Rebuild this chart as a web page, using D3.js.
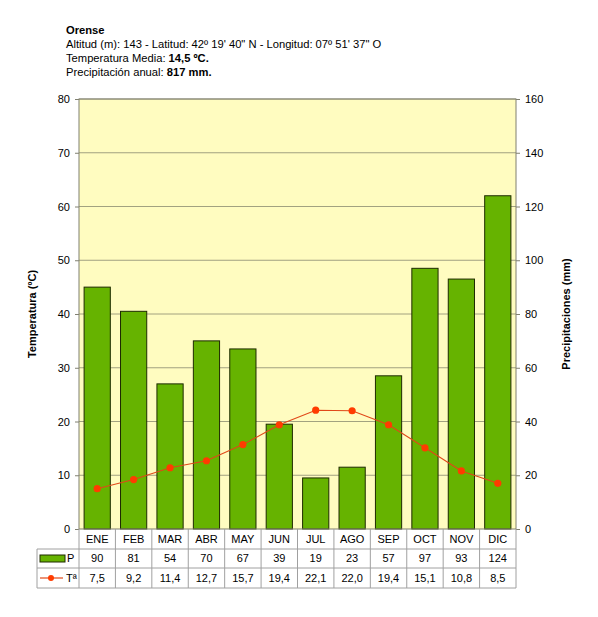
<!DOCTYPE html>
<html><head><meta charset="utf-8">
<script src="https://cdn.jsdelivr.net/npm/d3@7/dist/d3.min.js"></script>
<style>body{margin:0;background:#fff}svg{font-family:"Liberation Sans",Arial,sans-serif}</style>
</head><body><svg id="c" width="598" height="617"></svg>
<script>
const months = ["ENE","FEB","MAR","ABR","MAY","JUN","JUL","AGO","SEP","OCT","NOV","DIC"];
const precip = [90,81,54,70,67,39,19,23,57,97,93,124];
const temp = [7.5,9.2,11.4,12.7,15.7,19.4,22.1,22.0,19.4,15.1,10.8,8.5];
const tempTicks = [0,10,20,30,40,50,60,70,80];
const precTicks = [0,20,40,60,80,100,120,140,160];
const fmt = v => String(v.toFixed(1)).replace(".", ",");

const svg = d3.select("#c");
const L = 79, R = 516, T = 99, B = 529;
const x = d3.scaleBand().domain(months).range([L, R]).paddingInner(0.28).paddingOuter(0.14);
const xb = d3.scaleBand().domain(months).range([L, R]);
const yT = d3.scaleLinear().domain([0, 80]).range([B, T]);
const yP = d3.scaleLinear().domain([0, 160]).range([B, T]);

// title
const tt = svg.append("g").attr("font-size", 11.2).attr("fill", "#000");
tt.append("text").attr("x", 66).attr("y", 34).attr("font-weight", "bold").text("Orense");
tt.append("text").attr("x", 66).attr("y", 48).text("Altitud (m): 143 -  Latitud: 42º 19' 40\" N -  Longitud: 07º 51' 37\" O");
const t3 = tt.append("text").attr("x", 66).attr("y", 62);
t3.append("tspan").text("Temperatura Media: ");
t3.append("tspan").attr("font-weight", "bold").text("14,5 ºC.");
const t4 = tt.append("text").attr("x", 66).attr("y", 76);
t4.append("tspan").text("Precipitación anual: ");
t4.append("tspan").attr("font-weight", "bold").text("817 mm.");

// plot bg
svg.append("rect").attr("x", L).attr("y", T).attr("width", R - L).attr("height", B - T).attr("fill", "#fffcc0");
// grid
svg.append("g").selectAll("line").data(tempTicks.slice(1)).join("line")
  .attr("x1", L).attr("x2", R).attr("y1", d => yT(d)).attr("y2", d => yT(d))
  .attr("stroke", "#8a8a70").attr("stroke-width", 0.8);

// bars
svg.append("g").selectAll("rect").data(precip).join("rect")
  .attr("x", (d, i) => x(months[i])).attr("width", x.bandwidth())
  .attr("y", d => yP(d)).attr("height", d => B - yP(d))
  .attr("fill", "#66b300").attr("stroke", "#1e2a00").attr("stroke-width", 1);

// plot frame
svg.append("rect").attr("x", L).attr("y", T).attr("width", R - L).attr("height", B - T)
  .attr("fill", "none").attr("stroke", "#808070").attr("stroke-width", 1);

// line
const line = d3.line().x((d, i) => xb(months[i]) + xb.bandwidth() / 2).y(d => yT(d));
svg.append("path").datum(temp).attr("d", line).attr("fill", "none").attr("stroke", "#e04818").attr("stroke-width", 1.1);
svg.append("g").selectAll("circle").data(temp).join("circle")
  .attr("cx", (d, i) => xb(months[i]) + xb.bandwidth() / 2).attr("cy", d => yT(d)).attr("r", 3.6)
  .attr("fill", "#ff3c00");

// axes
const axL = svg.append("g").attr("transform", `translate(${L},0)`)
  .call(d3.axisLeft(yT).tickValues(tempTicks).tickSize(4).tickPadding(5));
const axR = svg.append("g").attr("transform", `translate(${R},0)`)
  .call(d3.axisRight(yP).tickValues(precTicks).tickSize(4).tickPadding(5));
[axL, axR].forEach(a => {
  a.select(".domain").remove();
  a.selectAll("line").attr("stroke", "#808070");
  a.selectAll("text").attr("font-size", 11).attr("fill", "#000").attr("font-family", "Liberation Sans, Arial, sans-serif");
});

// axis titles
svg.append("text").attr("transform", "translate(36,314) rotate(-90)").attr("text-anchor", "middle")
  .attr("font-size", 11).attr("font-weight", "bold").text("Temperatura (ºC)");
svg.append("text").attr("transform", "translate(570,314) rotate(-90)").attr("text-anchor", "middle")
  .attr("font-size", 11).attr("font-weight", "bold").text("Precipitaciones (mm)");

// data table
const rows = [529, 549, 568, 588];
const tg = svg.append("g");
const gc = "#a0a0a0";
[rows[1], rows[2], rows[3]].forEach(yy => {
  tg.append("line").attr("x1", 37).attr("x2", R).attr("y1", yy).attr("y2", yy).attr("stroke", gc);
});
tg.append("line").attr("x1", 37).attr("x2", 37).attr("y1", rows[1]).attr("y2", rows[3]).attr("stroke", gc);
const vx = months.map(m => xb(m)).concat([R]);
tg.selectAll("line.v").data(vx).join("line").attr("class", "v")
  .attr("x1", d => d).attr("x2", d => d).attr("y1", rows[0]).attr("y2", rows[3]).attr("stroke", gc);
const cx = m => xb(m) + xb.bandwidth() / 2;
tg.selectAll("text.m").data(months).join("text").attr("class", "m")
  .attr("x", d => cx(d)).attr("y", 543).attr("text-anchor", "middle").attr("font-size", 11).text(d => d);
tg.selectAll("text.p").data(precip).join("text").attr("class", "p")
  .attr("x", (d, i) => cx(months[i])).attr("y", 562).attr("text-anchor", "middle").attr("font-size", 11).text(d => d);
tg.selectAll("text.t").data(temp).join("text").attr("class", "t")
  .attr("x", (d, i) => cx(months[i])).attr("y", 582).attr("text-anchor", "middle").attr("font-size", 11).text(d => fmt(d));
// legend keys
tg.append("rect").attr("x", 40).attr("y", 555).attr("width", 25).attr("height", 7)
  .attr("fill", "#66b300").attr("stroke", "#1e2a00");
tg.append("text").attr("x", 67).attr("y", 562).attr("font-size", 11).text("P");
tg.append("line").attr("x1", 40).attr("x2", 63).attr("y1", 578).attr("y2", 578).attr("stroke", "#e04818").attr("stroke-width", 1.2);
tg.append("circle").attr("cx", 51).attr("cy", 578).attr("r", 3).attr("fill", "#ff3c00");
tg.append("text").attr("x", 66).attr("y", 582).attr("font-size", 11).text("Tª");
</script></body></html>
